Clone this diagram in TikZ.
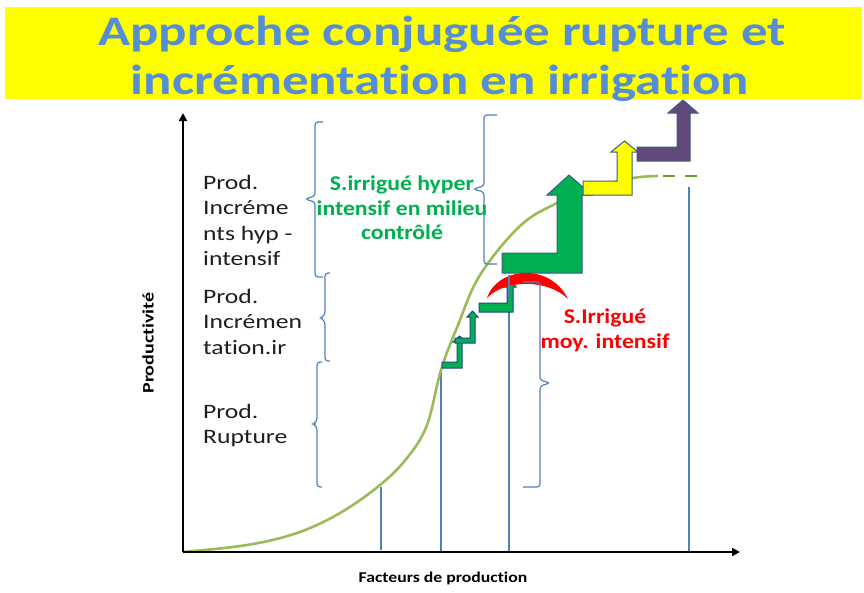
\documentclass[tikz,border=0pt]{standalone}
\usepackage{fontspec}
\setmainfont{Carlito}[Ligatures=CommonOff]
\newfontfamily\lblfont{Carlito}[FakeStretch=1.25,Ligatures=CommonOff]
\newfontfamily\grnfont{Carlito}[FakeStretch=1.13,Ligatures=CommonOff]
\newfontfamily\titfont{Carlito}[FakeStretch=1.26,Ligatures=CommonOff]
\newfontfamily\axfont{Carlito}[FakeStretch=1.25,Ligatures=CommonOff]
\newfontfamily\xaxfont{Carlito}[FakeStretch=1.18,Ligatures=CommonOff]
\usetikzlibrary{arrows.meta}
\definecolor{titleblue}{RGB}{85,142,213}
\definecolor{bandyellow}{RGB}{255,255,0}
\definecolor{curvegreen}{RGB}{155,187,89}
\definecolor{dashgreen}{RGB}{119,147,60}
\definecolor{lineblue}{RGB}{79,129,189}
\definecolor{arrowgreen}{RGB}{0,176,80}
\definecolor{shapeline}{RGB}{56,93,138}
\definecolor{stepline}{RGB}{31,73,125}
\definecolor{purplefill}{RGB}{96,74,123}
\definecolor{labelgreen}{RGB}{0,176,80}
\definecolor{labeltext}{RGB}{30,30,30}
\tikzset{
  bracestyle/.style={draw=lineblue, line width=1.2pt, rounded corners=3pt},
  vline/.style={draw=lineblue, line width=1.3pt},
  axisline/.style={draw=black, line width=2pt, -{Triangle[length=8pt,width=8pt]}},
  bentarrow/.style={draw=shapeline, line width=1pt, line join=miter},
  stepshape/.style={fill=arrowgreen, draw=stepline, line width=1pt},
  lbl/.style={font=\lblfont\fontsize{20.5}{25.5}\selectfont, text=labeltext, align=left, inner sep=0pt, anchor=north west},
  titletext/.style={font=\titfont\bfseries\fontsize{42}{50}\selectfont, text=titleblue, inner sep=0pt, anchor=base},
}
\newcommand\BraceL[6]{%
  \draw[bracestyle] ({#1+#6},#2) -- (#1,#2) -- (#1,{#4-3}) -- ({#1-#5},#4) -- (#1,{#4+3}) -- (#1,#3) -- ({#1+#6},#3);}
\begin{document}
\begin{tikzpicture}[x=1pt,y=-1pt]
\useasboundingbox (0,0) rectangle (864,592);
\fill[white] (0,0) rectangle (864,592);
% title band
\node (band) [fill=bandyellow, inner sep=0pt, minimum width=857pt, minimum height=92pt, anchor=north west] at (5,7) {};
\node (title1) [titletext] at (442,45) {Approche conjuguée rupture et};
\node (title2) [titletext] at (440,94) {incrémentation en irrigation};
% vertical guide lines
\draw[vline] (381,487) -- (381,550);
\draw[vline] (441,368) -- (441,552);
\draw[vline] (509,275) -- (509,552);
\draw[vline] (689,187) -- (689,552);
% curve
\draw[curvegreen, line width=2.6pt] plot[smooth, tension=0.6] coordinates {(183,552) (247,545) (297,533) (340,513) (380,485) (407,458) (427,425) (441,370) (458,325) (480,275) (520,226) (557,203) (597,187) (633,178) (658,176)};
\draw[dashgreen, line width=2.6pt, dash pattern=on 12pt off 10pt] (663,176) -- (700,176);
% axes
\coordinate (origin) at (183,552);
\coordinate (ytop) at (183,113);
\coordinate (xend) at (740,552);
\draw[axisline] (origin) -- (ytop);
\draw[axisline] (origin) -- (xend);
% braces
\BraceL{315}{122}{277}{199}{10}{8}
\BraceL{325}{273}{361}{318}{5}{5}
\BraceL{317}{362}{487}{424}{4}{5}
\BraceL{484}{115}{264}{189}{11}{13}
% small steps
\draw[stepshape] (442,368) -- (462,368) -- (462,342) -- (466,342) -- (459.5,336) -- (453,342) -- (457,342) -- (457,362) -- (442,362) -- cycle;
\draw[stepshape] (455,343) -- (475,343) -- (475,317) -- (478,317) -- (472.5,311) -- (467,317) -- (470,317) -- (470,338) -- (455,338) -- cycle;
\draw[stepshape] (479,312) -- (513,312) -- (513,287) -- (516,287) -- (510,279) -- (504,287) -- (507,287) -- (507,303) -- (479,303) -- cycle;
% big green bent-up arrow
\draw[bentarrow, fill=arrowgreen] (502,273) -- (582,273) -- (582,195) -- (592,195) -- (569,175) -- (547,195) -- (557,195) -- (557,253) -- (502,253) -- cycle;
% yellow
\draw[bentarrow, fill=bandyellow] (583,195) -- (632,195) -- (632,152) -- (638,152) -- (624.5,141) -- (611,152) -- (617,152) -- (617,181) -- (583,181) -- cycle;
% purple
\draw[bentarrow, fill=purplefill] (637,161) -- (690,161) -- (690,113) -- (698,113) -- (683,100) -- (668,113) -- (677,113) -- (677,147) -- (637,147) -- cycle;
% red crescent
\fill[red] (487,298) .. controls (497,267) and (550,262) .. (568,299) .. controls (548,279) and (505,279) .. cycle;
\draw[vline] (509,275) -- (509,300);
\draw[bracestyle] (523,282) -- (540,282) -- (540,380) -- (550,383) -- (540,386) -- (540,487) -- (523,487);
% left labels
\node (lab1) [lbl] at (203,175) {Prod.\\Incréme\\nts hyp -\\intensif};
\node (lab2) [lbl] at (203,289) {Prod.\\Incrémen\\tation.ir};
\node (lab3) [lbl] at (203,404) {Prod.\\Rupture};
% green label
\node (glab) [font=\grnfont\bfseries\fontsize{21}{24.5}\selectfont, text=labelgreen, align=center, inner sep=0pt] at (402,208) {S.irrigué hyper\\intensif en milieu\\contrôlé};
% red label
\node (rlab) [font=\grnfont\bfseries\fontsize{21}{25}\selectfont, text=red, align=center, inner sep=0pt] at (605,330) {S.Irrigué\\moy. intensif};
% axis labels
\node (ylab) [font=\axfont\bfseries\fontsize{16}{16}\selectfont, rotate=90, inner sep=0pt] at (148,343) {Productivité};
\node (xlab) [font=\xaxfont\bfseries\fontsize{15}{15}\selectfont, inner sep=0pt] at (443,578) {Facteurs de production};
\end{tikzpicture}
\end{document}
